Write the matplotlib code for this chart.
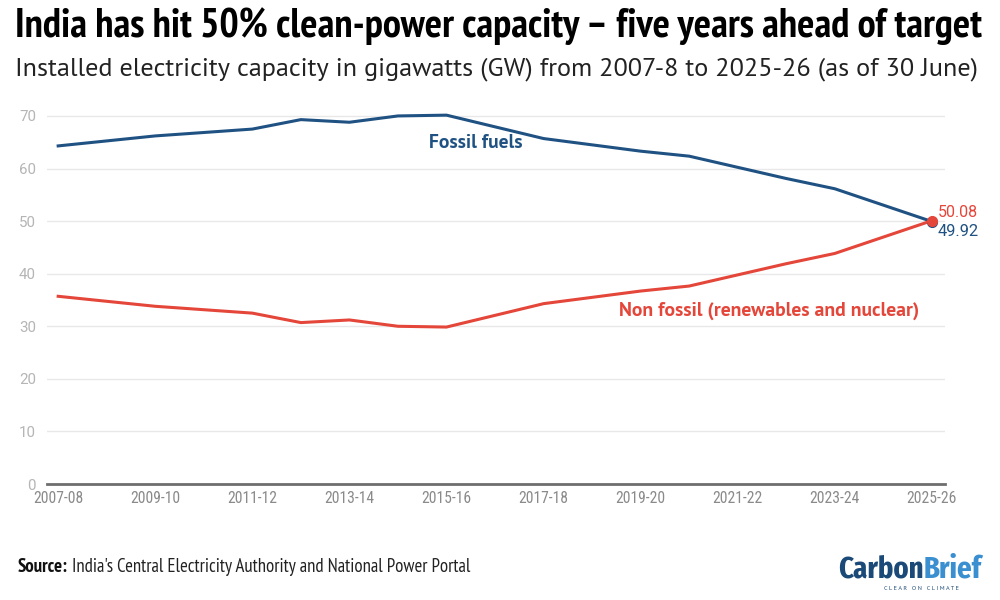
import matplotlib
matplotlib.use("Agg")
import logging
import matplotlib.pyplot as plt

logging.getLogger("matplotlib.font_manager").setLevel(logging.ERROR)

# installed capacity share, GW
years = [2007, 2009, 2011, 2012, 2013, 2014, 2015, 2017, 2019, 2020, 2022, 2023, 2025]
fossil = [64.3, 66.2, 67.5, 69.3, 68.8, 70.0, 70.15, 65.7, 63.3, 62.35, 58.1, 56.15, 49.92]
non_fossil = [35.7, 33.8, 32.5, 30.7, 31.2, 30.0, 29.85, 34.3, 36.7, 37.65, 41.9, 43.85, 50.08]

tick_years = [2007, 2009, 2011, 2013, 2015, 2017, 2019, 2021, 2023, 2025]
tick_labels = ["2007-08", "2009-10", "2011-12", "2013-14", "2015-16",
               "2017-18", "2019-20", "2021-22", "2023-24", "2025-26"]
y_ticks = [0, 10, 20, 30, 40, 50, 60, 70]

BLUE = "#1f5283"
RED = "#e4463a"

NARROW = ["PT Sans Narrow", "Fira Sans Condensed", "DejaVu Sans"]
XNARROW = ["Fira Sans Extra Condensed", "Fira Sans Condensed", "DejaVu Sans"]
TICKF = ["Roboto Condensed", "Fira Sans Condensed", "DejaVu Sans"]
ROBOTO = ["Roboto", "DejaVu Sans"]
SANS = ["PT Sans", "Open Sans", "DejaVu Sans"]

fig = plt.figure(figsize=(10, 6), dpi=100)
fig.patch.set_facecolor("white")
ax = fig.add_axes([0.047, 0.1933, 0.898, 0.631])
renderer = fig.canvas.get_renderer()


def fit(t, width_px):
    w = t.get_window_extent(renderer).width
    t.set_fontsize(t.get_fontsize() * width_px / w)


ax.plot(years, fossil, color=BLUE, lw=2.2, solid_joinstyle="round")
ax.plot(years, non_fossil, color=RED, lw=2.2, solid_joinstyle="round")
ax.plot(years[-1], fossil[-1], "o", color=BLUE, ms=7, zorder=4)
ax.plot(years[-1], non_fossil[-1], "o", color=RED, ms=7, zorder=5)

ax.set_xlim(2007 - 0.23, 2025 + 0.27)
ax.set_ylim(0, 72)
ax.set_yticks(y_ticks)
ax.set_xticks(tick_years)
ax.set_xticklabels(tick_labels, fontfamily=TICKF, fontsize=12, color="#8a8a8a")
ax.set_yticklabels([str(v) for v in y_ticks], fontfamily=ROBOTO, fontsize=12, color="#b5b5b5")
ax.tick_params(axis="x", length=0, pad=5)
ax.tick_params(axis="y", length=0, pad=8)
for v in y_ticks[1:]:
    ax.axhline(v, color="#e8e8e8", lw=1, zorder=0)
for s in ["top", "right", "left"]:
    ax.spines[s].set_visible(False)
ax.spines["bottom"].set_color("#6e6e6e")
ax.spines["bottom"].set_linewidth(2)

fig.canvas.draw()
xs = 50 / ax.get_xticklabels()[0].get_window_extent(renderer).width
for t in ax.get_xticklabels():
    t.set_fontsize(12 * xs)
ys = 17 / ax.get_yticklabels()[-1].get_window_extent(renderer).width
for t in ax.get_yticklabels():
    t.set_fontsize(12 * ys)

ff = ax.text(2015.6, 64.8, "Fossil fuels", color=BLUE, fontsize=13, fontweight="bold",
             fontfamily=SANS, ha="center", va="center")
fit(ff, 94)
nf = ax.text(2018.55, 32.9, "Non fossil (renewables and nuclear)", color=RED, fontsize=13,
             fontweight="bold", fontfamily=SANS, ha="left", va="center")
fit(nf, 301)
v1 = ax.text(2025.12, 51.7, "50.08", color=RED, fontsize=12, fontfamily=ROBOTO, ha="left", va="center")
fit(v1, 40)
v2 = ax.text(2025.12, 48.1, "49.92", color=BLUE, fontsize=12, fontfamily=ROBOTO, ha="left", va="center")
fit(v2, 41)

title = fig.text(0.015, 0.939, "India has hit 50% clean-power capacity – five years ahead of target",
                 fontsize=24, fontweight="bold", fontfamily=NARROW, va="baseline")
fit(title, 970)
sub = fig.text(0.015, 0.875, "Installed electricity capacity in gigawatts (GW) from 2007-8 to 2025-26 (as of 30 June)",
               fontsize=15, fontfamily=SANS, va="baseline", color="#222222")
fit(sub, 968)

src_b = fig.text(0.018, 0.047, "Source:", fontsize=11, fontweight="bold", fontfamily=NARROW,
                 va="baseline", color="#111111")
src_r = fig.text(0.1, 0.047, "India's Central Electricity Authority and National Power Portal",
                 fontsize=11, fontfamily=NARROW, va="baseline", color="#222222")
bw = src_b.get_window_extent(renderer).width
rw = src_r.get_window_extent(renderer).width
k = 452 / (bw + rw + 4)
src_b.set_fontsize(11 * k)
src_r.set_fontsize(11 * k)
bw = src_b.get_window_extent(renderer).width
src_r.set_x(0.018 + (bw + 4) / 1000)

logo1 = fig.text(0.838, 0.037, "Carbon", fontsize=26, fontweight="bold", fontfamily=XNARROW,
                 va="baseline", color="#1b4a78")
logo2 = fig.text(0.9, 0.037, "Brief", fontsize=26, fontweight="bold", fontfamily=XNARROW,
                 va="baseline", color="#3a8fd1")
w1 = logo1.get_window_extent(renderer).width
w2 = logo2.get_window_extent(renderer).width
k = 144 / (w1 + w2)
logo1.set_fontsize(26 * k)
logo2.set_fontsize(26 * k)
w1 = logo1.get_window_extent(renderer).width
logo2.set_x(0.838 + w1 / 1000)
fig.text(0.922, 0.02, "C L E A R   O N   C L I M A T E", fontsize=4.5, fontfamily=SANS,
         va="center", ha="center", color="#1b4a78")

fig.savefig("out.png", dpi=100, facecolor="white")
